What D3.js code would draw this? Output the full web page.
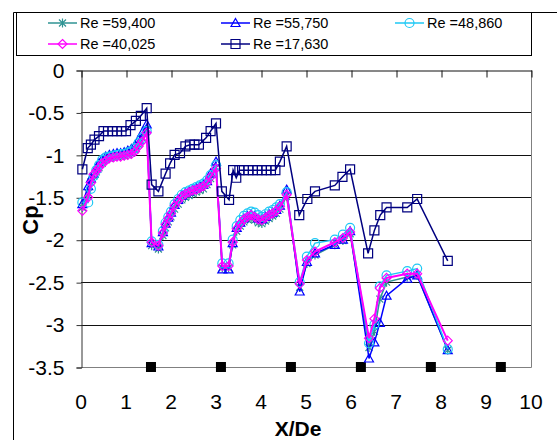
<!DOCTYPE html>
<html>
<head>
<meta charset="utf-8">
<script src="https://cdn.jsdelivr.net/npm/d3@7"></script>
<style>
  body { margin: 0; background: #fff; }
  svg { font-family: Arial, "Liberation Sans", sans-serif; }
</style>
</head>
<body>
<div id="chart"></div>
<script>

// x positions shared by the four close series
var xCluster = [
    0.03, 0.16, 0.22, 0.28, 0.34, 0.40, 0.47, 0.55, 0.63, 0.72, 0.80, 0.88, 0.96, 1.04, 1.12, 1.20, 1.28, 1.36, 1.46,
    1.57, 1.72, 1.82, 1.88, 1.94, 2.00, 2.08, 2.16, 2.24, 2.32, 2.40, 2.48, 2.56, 2.64, 2.72, 2.80, 2.88, 3.00,
    3.14, 3.28, 3.37, 3.46, 3.54, 3.62, 3.70, 3.78, 3.86, 3.94, 4.02, 4.10, 4.18, 4.26, 4.34, 4.42, 4.57,
    4.86, 5.02, 5.20, 5.64, 5.82, 5.98,
    6.40, 6.52, 6.64, 6.79, 7.25, 7.47, 8.15
];

var cp59400 = [
    -1.62, -1.45, -1.32, -1.25, -1.20, -1.15, -1.10, -1.06, -1.04, -1.03, -1.02, -1.01, -1.01, -1.00, -0.98, -0.94, -0.88, -0.80, -0.70,
    -2.07, -2.11, -1.95, -1.86, -1.79, -1.73, -1.64, -1.58, -1.53, -1.50, -1.48, -1.46, -1.44, -1.42, -1.40, -1.35, -1.28, -1.15,
    -2.33, -2.33, -2.06, -1.90, -1.84, -1.79, -1.76, -1.75, -1.77, -1.80, -1.81, -1.78, -1.75, -1.72, -1.69, -1.64, -1.49,
    -2.56, -2.28, -2.18, -2.06, -2.01, -1.93,
    -3.27, -3.08, -2.70, -2.50, -2.44, -2.42, -3.30
];

var cp55750 = [
    -1.58, -1.37, -1.28, -1.22, -1.16, -1.10, -1.05, -1.02, -1.00, -0.99, -0.98, -0.98, -0.97, -0.95, -0.93, -0.89, -0.82, -0.74, -0.64,
    -2.04, -2.08, -1.91, -1.81, -1.74, -1.68, -1.59, -1.53, -1.48, -1.45, -1.43, -1.41, -1.39, -1.37, -1.35, -1.31, -1.22, -1.08,
    -2.35, -2.35, -2.04, -1.86, -1.80, -1.75, -1.72, -1.70, -1.72, -1.75, -1.76, -1.73, -1.70, -1.68, -1.65, -1.60, -1.41,
    -2.61, -2.26, -2.16, -2.06, -2.00, -1.90,
    -3.40, -3.21, -2.98, -2.66, -2.46, -2.42, -3.30
];

var cp48860 = [
    -1.56, -1.56, -1.40, -1.25, -1.18, -1.12, -1.06, -1.03, -1.02, -1.01, -1.00, -0.99, -0.99, -0.97, -0.96, -0.92, -0.86, -0.80, -0.72,
    -2.02, -2.06, -1.90, -1.80, -1.73, -1.67, -1.58, -1.52, -1.47, -1.44, -1.42, -1.40, -1.38, -1.36, -1.34, -1.30, -1.24, -1.12,
    -2.28, -2.28, -2.00, -1.84, -1.77, -1.72, -1.69, -1.67, -1.68, -1.71, -1.73, -1.70, -1.67, -1.65, -1.62, -1.58, -1.44,
    -2.50, -2.20, -2.04, -2.00, -1.94, -1.86,
    -3.22, -3.00, -2.55, -2.42, -2.37, -2.34, -3.29
];

var cp40025 = [
    -1.66, -1.50, -1.33, -1.23, -1.19, -1.15, -1.10, -1.07, -1.04, -1.03, -1.02, -1.02, -1.01, -1.00, -0.99, -0.96, -0.90, -0.84, -0.74,
    -2.03, -2.07, -1.92, -1.82, -1.75, -1.69, -1.60, -1.54, -1.49, -1.46, -1.44, -1.42, -1.41, -1.39, -1.37, -1.33, -1.26, -1.16,
    -2.31, -2.31, -2.03, -1.87, -1.81, -1.76, -1.73, -1.71, -1.73, -1.76, -1.77, -1.74, -1.71, -1.69, -1.66, -1.61, -1.47,
    -2.52, -2.24, -2.14, -2.03, -1.98, -1.91,
    -3.16, -2.93, -2.57, -2.45, -2.40, -2.40, -3.19
];

// the low Reynolds number run has its own x stations
var x17630 = [
    0.03, 0.15, 0.22, 0.30, 0.40, 0.50, 0.60, 0.70, 0.80, 0.90, 1.00, 1.10, 1.22, 1.33, 1.46,
    1.57, 1.72, 1.88, 1.98, 2.08, 2.20, 2.32, 2.42, 2.52, 2.62, 2.78, 2.88, 3.00,
    3.13, 3.29, 3.38, 3.45, 3.52, 3.62, 3.72, 3.82, 3.92, 4.02, 4.12, 4.22, 4.32, 4.42, 4.57,
    4.85, 5.03, 5.20, 5.64, 5.81, 5.98,
    6.38, 6.52, 6.65, 6.79, 7.25, 7.47, 8.15
];
var cp17630 = [
    -1.17, -0.92, -0.88, -0.82, -0.78, -0.72, -0.72, -0.72, -0.72, -0.72, -0.72, -0.65, -0.60, -0.54, -0.45,
    -1.35, -1.43, -1.22, -1.10, -1.00, -0.98, -0.90, -0.88, -0.88, -0.88, -0.80, -0.72, -0.63,
    -1.43, -1.53, -1.18, -1.27, -1.18, -1.18, -1.18, -1.18, -1.18, -1.18, -1.18, -1.18, -1.18, -1.08, -0.90,
    -1.71, -1.52, -1.43, -1.36, -1.26, -1.17,
    -2.16, -1.89, -1.71, -1.62, -1.62, -1.52, -2.25
];

// rib locations marked along the bottom
var ribX = [1.555, 3.11, 4.665, 6.22, 7.775, 9.33];
var ribCp = -3.5;

var seriesNames = ["Re =59,400", "Re =55,750", "Re =48,860", "Re =40,025", "Re =17,630"];
var seriesColors = ["#2f9393", "#0000ff", "#1ec8f5", "#ff00ff", "#000080"];
var seriesMarkers = ["star", "triangle", "circle", "diamond", "square"];

var yTicks = [0, -0.5, -1, -1.5, -2, -2.5, -3, -3.5];
var xTicks = [0, 1, 2, 3, 4, 5, 6, 7, 8, 9, 10];

var series = [
    { x: xCluster, y: cp59400 },
    { x: xCluster, y: cp55750 },
    { x: xCluster, y: cp48860 },
    { x: xCluster, y: cp40025 },
    { x: x17630, y: cp17630 }
];

var markerPaths = {
    star: "M-3.5,-3.5L3.5,3.5M-3.5,3.5L3.5,-3.5M0,-4.5L0,4.5",
    triangle: "M0,-4.5L4.5,3.5L-4.5,3.5Z",
    circle: "M4.5,0A4.5,4.5 0 1,1 -4.5,0A4.5,4.5 0 1,1 4.5,0Z",
    diamond: "M0,-4.5L4.5,0L0,4.5L-4.5,0Z",
    square: "M-4.5,-4.5L4.5,-4.5L4.5,4.5L-4.5,4.5Z"
};

var W = 557, H = 440;
var svg = d3.select("#chart").append("svg")
    .attr("width", W)
    .attr("height", H);

// outer frame (cropped screenshot, only top and left visible)
svg.append("path")
    .attr("d", "M13.5,440V12.5H557")
    .attr("fill", "none")
    .attr("stroke", "#000");

var x = d3.scaleLinear().domain([0, 10]).range([81, 531]);
var y = d3.scaleLinear().domain([-3.5, 0]).range([367, 70]);

// gridlines
svg.selectAll("line.grid")
    .data(yTicks.filter(function(d) { return d < 0 && d > -3.5; }))
    .enter().append("line")
    .attr("class", "grid")
    .attr("x1", x(0)).attr("x2", x(10))
    .attr("y1", function(d) { return Math.round(y(d)) + 0.5; })
    .attr("y2", function(d) { return Math.round(y(d)) + 0.5; })
    .attr("stroke", "#111");

// right and bottom border
svg.append("path")
    .attr("d", "M" + (x(10) + 0.5) + "," + (y(0) + 0.5) + "V" + (y(-3.5) + 0.5) + "H" + (x(0) + 0.5))
    .attr("fill", "none")
    .attr("stroke", "#808080");

// y axis
var yAxis = svg.append("g")
    .attr("transform", "translate(" + (x(0) + 0.5) + ",0.5)")
    .call(d3.axisLeft(y).tickValues(yTicks).tickSize(5).tickPadding(12)
        .tickFormat(function(d) { return String(d); }));
yAxis.select(".domain").attr("stroke", "#333");
yAxis.selectAll(".tick line").attr("stroke", "#333");
yAxis.selectAll("text").attr("font-size", 21).attr("fill", "#000")
    .attr("font-family", "Arial, 'Liberation Sans', sans-serif");

// x axis sits on Cp = 0 with ticks hanging down
var xAxis = svg.append("g")
    .attr("transform", "translate(0.5," + (y(0) + 0.5) + ")")
    .call(d3.axisTop(x).tickValues(xTicks).tickSize(-7).tickSizeOuter(0).tickFormat(""));
xAxis.select(".domain").attr("stroke", "#111");
xAxis.selectAll(".tick line").attr("stroke", "#111");

// x tick labels at the bottom
svg.selectAll("text.xlab")
    .data(xTicks)
    .enter().append("text")
    .attr("class", "xlab")
    .attr("x", function(d) { return x(d); })
    .attr("y", 409)
    .attr("text-anchor", "middle")
    .attr("font-size", 21)
    .text(function(d) { return d; });

// axis titles
svg.append("text")
    .attr("x", 298)
    .attr("y", 436)
    .attr("text-anchor", "middle")
    .attr("font-size", 21)
    .attr("font-weight", "bold")
    .text("X/De");

svg.append("text")
    .attr("transform", "translate(38,220) rotate(-90)")
    .attr("text-anchor", "middle")
    .attr("font-size", 22)
    .attr("font-weight", "bold")
    .text("Cp");

// rib markers
svg.selectAll("rect.rib")
    .data(ribX)
    .enter().append("rect")
    .attr("class", "rib")
    .attr("x", function(d) { return x(d) - 5; })
    .attr("y", y(ribCp) - 5)
    .attr("width", 10)
    .attr("height", 10)
    .attr("fill", "#000");

// series lines and markers
var line = d3.line()
    .x(function(d) { return x(d[0]); })
    .y(function(d) { return y(d[1]); });

series.forEach(function(s, i) {
    var pts = s.x.map(function(v, j) { return [v, s.y[j]]; });
    var g = svg.append("g").attr("class", "series");

    g.append("path")
        .datum(pts)
        .attr("d", line)
        .attr("fill", "none")
        .attr("stroke", seriesColors[i])
        .attr("stroke-width", i === 3 ? 2 : 1.5);

    g.selectAll("path.mark")
        .data(pts)
        .enter().append("path")
        .attr("class", "mark")
        .attr("transform", function(d) { return "translate(" + x(d[0]) + "," + y(d[1]) + ")"; })
        .attr("d", markerPaths[seriesMarkers[i]])
        .attr("fill", "none")
        .attr("stroke", seriesColors[i])
        .attr("stroke-width", 1.2);
});

// legend
svg.append("rect")
    .attr("x", 16.5).attr("y", 12.5)
    .attr("width", 515).attr("height", 43)
    .attr("fill", "#fff")
    .attr("stroke", "#000");

var legendCols = [48, 221, 395];
var legendRows = [23, 44];

var legend = svg.selectAll("g.legend")
    .data(seriesNames)
    .enter().append("g")
    .attr("class", "legend")
    .attr("transform", function(d, i) {
        return "translate(" + legendCols[i % 3] + "," + legendRows[Math.floor(i / 3)] + ")";
    });

legend.append("line")
    .attr("x1", 0).attr("x2", 29)
    .attr("stroke", function(d, i) { return seriesColors[i]; })
    .attr("stroke-width", 1.5);

legend.append("path")
    .attr("transform", "translate(14.5,0)")
    .attr("d", function(d, i) { return markerPaths[seriesMarkers[i]]; })
    .attr("fill", "none")
    .attr("stroke", function(d, i) { return seriesColors[i]; })
    .attr("stroke-width", 1.2);

legend.append("text")
    .attr("x", 32)
    .attr("y", 5)
    .attr("font-size", 14.5)
    .text(function(d) { return d; });

</script>
</body>
</html>
